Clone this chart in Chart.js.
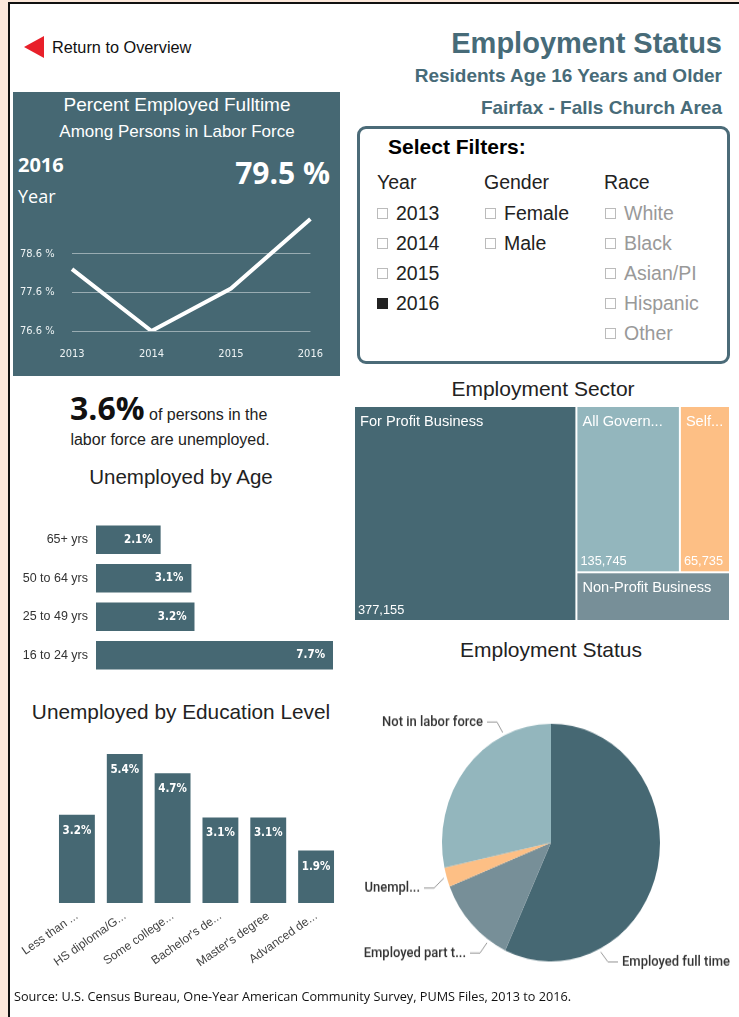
<!DOCTYPE html>
<html>
<head>
<meta charset="utf-8">
<title>Employment Status</title>
<script src="https://cdn.jsdelivr.net/npm/chart.js@4.4.1/dist/chart.umd.min.js"></script>
<style>
  html,body{margin:0;padding:0;}
  body{width:739px;height:1017px;background:#fce8db;position:relative;overflow:hidden;font-family:"Liberation Sans",Arial,sans-serif;color:#222;}
  #page{position:absolute;left:8px;top:2px;width:740px;height:1020px;background:#fff;border-left:2px solid #111;border-top:2px solid #111;}
  .t{position:absolute;white-space:nowrap;line-height:1;}
  .c{transform:translateX(-50%);}
  canvas{position:absolute;}
  .back{position:absolute;left:24px;top:36px;width:20px;height:22px;background:#e8202a;clip-path:polygon(0 50%,100% 0,100% 100%);}
  .hdr{color:#476b78;font-weight:bold;right:17px;}
  #kpi{position:absolute;left:13px;top:92px;width:327px;height:284px;background:#466873;}
  #filters{position:absolute;left:357px;top:126px;width:367px;height:232px;border:3px solid #4b6b78;border-radius:9px;}
  .box{display:inline-block;width:9px;height:9px;border:1px solid #bbb;margin-right:8px;vertical-align:1px;}
  .box.on{background:#222;border-color:#222;}
  .f{font-size:19.5px;}
  .grey{color:#999;}
  #pieWrap{position:absolute;left:355px;top:690px;width:384px;height:280px;transform:scaleY(1.09);transform-origin:0 0;}
</style>
</head>
<body>
<div id="page"></div>

<div class="back"></div>
<div class="t" style="left:52px;top:39px;font-size:16.3px;color:#111;">Return to Overview</div>

<div class="t hdr" style="top:29px;font-size:29px;">Employment Status</div>
<div class="t hdr" style="top:66px;font-size:19px;">Residents Age 16 Years and Older</div>
<div class="t hdr" style="top:98px;font-size:19px;">Fairfax - Falls Church Area</div>

<div id="kpi"></div>
<div class="t c" style="left:177px;top:95px;font-size:19px;color:#fff;">Percent Employed Fulltime</div>
<div class="t c" style="left:177px;top:123px;font-size:17px;color:#fff;">Among Persons in Labor Force</div>
<div class="t" style="left:18px;top:155px;font-size:20px;font-weight:bold;color:#fff;font-family:'Open Sans',sans-serif;">2016</div>
<div class="t" style="left:18px;top:187px;font-size:18px;color:#fff;font-family:'Open Sans',sans-serif;">Year</div>
<div class="t" style="right:409px;top:158px;font-size:30px;font-weight:bold;color:#fff;font-family:'Open Sans',sans-serif;">79.5 %</div>
<canvas id="lineChart" width="327" height="176" style="left:13px;top:200px;"></canvas>

<div id="filters"></div>
<div class="t" style="left:388px;top:136px;font-size:21px;font-weight:bold;color:#000;">Select Filters:</div>
<div class="t f" style="left:377px;top:173px;">Year</div>
<div class="t f" style="left:484px;top:173px;">Gender</div>
<div class="t f" style="left:604px;top:173px;">Race</div>
<div class="t f" style="left:377px;top:204px;"><span class="box"></span>2013</div>
<div class="t f" style="left:377px;top:234px;"><span class="box"></span>2014</div>
<div class="t f" style="left:377px;top:264px;"><span class="box"></span>2015</div>
<div class="t f" style="left:377px;top:294px;"><span class="box on"></span>2016</div>
<div class="t f" style="left:485px;top:204px;"><span class="box"></span>Female</div>
<div class="t f" style="left:485px;top:234px;"><span class="box"></span>Male</div>
<div class="t f grey" style="left:605px;top:204px;"><span class="box"></span>White</div>
<div class="t f grey" style="left:605px;top:234px;"><span class="box"></span>Black</div>
<div class="t f grey" style="left:605px;top:264px;"><span class="box"></span>Asian/PI</div>
<div class="t f grey" style="left:605px;top:294px;"><span class="box"></span>Hispanic</div>
<div class="t f grey" style="left:605px;top:324px;"><span class="box"></span>Other</div>

<div class="t c" style="left:543px;top:378px;font-size:21px;">Employment Sector</div>
<canvas id="sectorChart" width="376" height="215" style="left:354px;top:406px;"></canvas>

<div class="t" style="left:70px;top:392px;"><span style="font-family:'Open Sans',sans-serif;font-weight:bold;font-size:32px;color:#111;">3.6%</span><span style="font-size:16px;"> of persons in the</span></div>
<div class="t c" style="left:170px;top:432px;font-size:16px;">labor force are unemployed.</div>

<div class="t c" style="left:181px;top:467px;font-size:20.5px;">Unemployed by Age</div>
<canvas id="ageChart" width="335" height="185" style="left:10px;top:505px;"></canvas>

<div class="t c" style="left:181px;top:702px;font-size:20.8px;">Unemployed by Education Level</div>
<canvas id="eduChart" width="335" height="245" style="left:10px;top:740px;"></canvas>

<div class="t c" style="left:551px;top:639px;font-size:21px;">Employment Status</div>
<div id="pieWrap"><canvas id="statusChart" width="384" height="280" style="left:0;top:0;"></canvas></div>

<div class="t" style="left:14px;top:990px;font-size:12.7px;color:#111;font-family:'Open Sans',sans-serif;">Source: U.S. Census Bureau, One-Year American Community Survey, PUMS Files, 2013 to 2016.</div>

<script>
// data
const years = ['2013', '2014', '2015', '2016'];
const fullTimePct = [78.2, 76.6, 77.7, 79.5];
const pctTicks = [76.6, 77.6, 78.6];

const ageLabels = ['65+ yrs', '50 to 64 yrs', '25 to 49 yrs', '16 to 24 yrs'];
const ageUnemp = [2.1, 3.1, 3.2, 7.7];

const eduLabels = ['Less than ...', 'HS diploma/G...', 'Some college...', "Bachelor's de...", "Master's degree", 'Advanced de...'];
const eduUnemp = [3.2, 5.4, 4.7, 3.1, 3.1, 1.9];

const sectorLabels = ['For Profit Business', 'All Government', 'Self-Employed', 'Non-Profit Business'];
const sectorCounts = [377155, 135745, 65735, 59000];

const statusLabels = ['Employed full time', 'Employed part time', 'Unemployed', 'Not in labor force'];
const statusShares = [56.9, 12.1, 2.6, 28.4];

(function(){
  const $ = (id)=> document.getElementById(id);
  const TEAL = '#466873', LIGHT = '#93b6bd', ORANGE = '#fdbf85', SLATE = '#778f98';
  const DIN = "'DejaVu Sans Condensed','Liberation Sans Narrow',sans-serif";
  const base = { responsive:false, animation:false, events:[], plugins:{ legend:{display:false}, tooltip:{enabled:false} } };

  // value labels inside bars
  const barLabels = (where)=>({
    id:'barLabels',
    afterDatasetsDraw(chart){
      const ctx = chart.ctx, ds = chart.data.datasets[0];
      ctx.save();
      ctx.fillStyle = '#fff';
      ctx.font = "bold 11.5px " + DIN;
      ctx.textBaseline = 'middle';
      chart.getDatasetMeta(0).data.forEach((bar, i)=>{
        const txt = ds.data[i].toFixed(1) + '%';
        if(where === 'end'){ ctx.textAlign = 'right'; ctx.fillText(txt, bar.x - 8, bar.y); }
        else { ctx.textAlign = 'center'; ctx.fillText(txt, bar.x, bar.y + 16); }
      });
      ctx.restore();
    }
  });

  // KPI line
  new Chart($('lineChart'), {
    type:'line',
    data:{ labels:years, datasets:[{ data:fullTimePct, borderColor:'#fff', borderWidth:4, pointRadius:0, tension:0, fill:false }] },
    options:Object.assign({}, base, {
      layout:{ padding:{ left:7, right:25, top:17, bottom:0 } },
      scales:{
        x:{ grid:{display:false, drawTicks:false}, border:{display:false},
            ticks:{ color:'#eef3f4', font:{family:DIN, size:11}, padding:17 },
            afterFit(s){ s.height = 45; } },
        y:{ min:76.6, max:79.55,
            afterBuildTicks(s){ s.ticks = pctTicks.map(v=>({value:v})); },
            grid:{ color:'rgba(255,255,255,0.45)', drawTicks:false }, border:{display:false},
            ticks:{ color:'#eef3f4', crossAlign:'far', font:{family:DIN, size:11}, callback:(v)=> Number(v).toFixed(1) + ' %' },
            afterFit(s){ s.width = 52; } }
      }
    })
  });

  // unemployed by age
  new Chart($('ageChart'), {
    type:'bar',
    data:{ labels:ageLabels, datasets:[{ data:ageUnemp, backgroundColor:TEAL, categoryPercentage:1, barPercentage:0.74 }] },
    options:Object.assign({}, base, {
      indexAxis:'y',
      layout:{ padding:{ left:0, right:12, top:9, bottom:8.5 } },
      scales:{
        x:{ display:false, min:0, max:7.7 },
        y:{ grid:{display:false, drawTicks:false}, border:{display:false},
            ticks:{ color:'#333', font:{family:"'Liberation Sans',sans-serif", size:12.5}, padding:8 },
            afterFit(s){ s.width = 86; } }
      }
    }),
    plugins:[barLabels('end')]
  });

  // unemployed by education
  new Chart($('eduChart'), {
    type:'bar',
    data:{ labels:eduLabels, datasets:[{ data:eduUnemp, backgroundColor:TEAL, categoryPercentage:1, barPercentage:0.75 }] },
    options:Object.assign({}, base, {
      layout:{ padding:{ left:43, right:5, top:14, bottom:0 } },
      scales:{
        y:{ display:false, min:0, max:5.4 },
        x:{ grid:{display:false, drawTicks:false}, border:{display:false},
            ticks:{ color:'#444', font:{family:"'Liberation Sans',sans-serif", size:12}, padding:6, minRotation:35, maxRotation:35, autoSkip:false },
            afterFit(s){ s.height = 82; } }
      }
    }),
    plugins:[barLabels('top')]
  });

  // employment sector treemap: slice-and-dice from the counts, drawn on the chart's own scales
  const sectorColors = [TEAL, LIGHT, ORANGE, SLATE];
  function fitText(ctx, s, w){
    if(ctx.measureText(s).width <= w) return s;
    let n = s.length;
    while(n > 1 && ctx.measureText(s.slice(0, n) + '...').width > w) n--;
    return s.slice(0, n) + '...';
  }
  const treemap = {
    id:'treemap',
    afterDraw(chart){
      const v = sectorCounts, total = v.reduce((a,b)=>a+b, 0);
      const fpW = v[0] / total;
      const topH = (v[1] + v[2]) / (v[1] + v[2] + v[3]);
      const govW = (1 - fpW) * v[1] / (v[1] + v[2]);
      const cells = [
        [0, 0, fpW, 1],
        [fpW, 0, govW, topH],
        [fpW + govW, 0, 1 - fpW - govW, topH],
        [fpW, topH, 1 - fpW, 1 - topH]
      ];
      const xs = chart.scales.x, ys = chart.scales.y, ctx = chart.ctx;
      ctx.save();
      cells.forEach((c, i)=>{
        const x0 = xs.getPixelForValue(c[0]) + 1, x1 = xs.getPixelForValue(c[0] + c[2]) - 1;
        const y0 = ys.getPixelForValue(c[1]) + 1, y1 = ys.getPixelForValue(c[1] + c[3]) - 1;
        ctx.fillStyle = sectorColors[i];
        ctx.fillRect(x0, y0, x1 - x0, y1 - y0);
        ctx.fillStyle = '#fff';
        ctx.textAlign = 'left'; ctx.textBaseline = 'middle';
        ctx.font = "14.6px 'Liberation Sans',sans-serif";
        ctx.fillText(fitText(ctx, sectorLabels[i], x1 - x0 - 10), x0 + 5, y0 + 15);
        if(y1 - y0 > 80){
          ctx.font = "12.8px 'Liberation Sans',sans-serif";
          ctx.fillText(fitText(ctx, v[i].toLocaleString('en-US'), x1 - x0 - 4), x0 + 3, y1 - 10);
        }
      });
      ctx.restore();
    }
  };
  new Chart($('sectorChart'), {
    type:'scatter',
    data:{ datasets:[{ data:[] }] },
    options:Object.assign({}, base, {
      layout:{ padding:0 },
      scales:{ x:{ display:false, min:0, max:1 }, y:{ display:false, min:0, max:1, reverse:true } }
    }),
    plugins:[treemap]
  });

  // employment status pie with leader-line labels
  const labelAt = [0.75, 0.23, 0.5, 0.75];   // where along each slice the leader line attaches
  const labelPos = [
    { x:267, y:249.5, align:'left' },
    { x:111, y:241.3, align:'right' },
    { x:65,  y:181.7, align:'right' },
    { x:128, y:29.4,  align:'right' }
  ];
  const pieLabels = {
    id:'pieLabels',
    afterDatasetsDraw(chart){
      const ctx = chart.ctx;
      ctx.save();
      ctx.font = "500 13px Roboto,sans-serif";
      ctx.textBaseline = 'middle';
      chart.getDatasetMeta(0).data.forEach((arc, i)=>{
        const p = labelPos[i];
        const a = arc.startAngle + (arc.endAngle - arc.startAngle) * labelAt[i];
        const r = arc.outerRadius + 3;
        const ax = arc.x + r * Math.cos(a), ay = arc.y + r * Math.sin(a);
        const dir = p.align === 'right' ? 1 : -1;
        ctx.strokeStyle = '#999'; ctx.lineWidth = 1;
        ctx.beginPath();
        ctx.moveTo(p.x + dir * 4, p.y);
        ctx.lineTo(p.x + dir * 14, p.y);
        ctx.lineTo(ax, ay);
        ctx.stroke();
        ctx.fillStyle = '#333';
        ctx.textAlign = p.align;
        const room = p.align === 'right' ? p.x - 7 : chart.width - p.x;
        ctx.fillText(fitText(ctx, statusLabels[i], room), p.x, p.y);
      });
      ctx.restore();
    }
  };
  new Chart($('statusChart'), {
    type:'pie',
    data:{ labels:statusLabels, datasets:[{ data:statusShares, backgroundColor:[TEAL, SLATE, ORANGE, LIGHT], borderWidth:0 }] },
    options:Object.assign({}, base, {
      layout:{ padding:{ left:87, right:79, top:31, bottom:31 } }
    }),
    plugins:[pieLabels]
  });
})();
</script>
</body>
</html>
